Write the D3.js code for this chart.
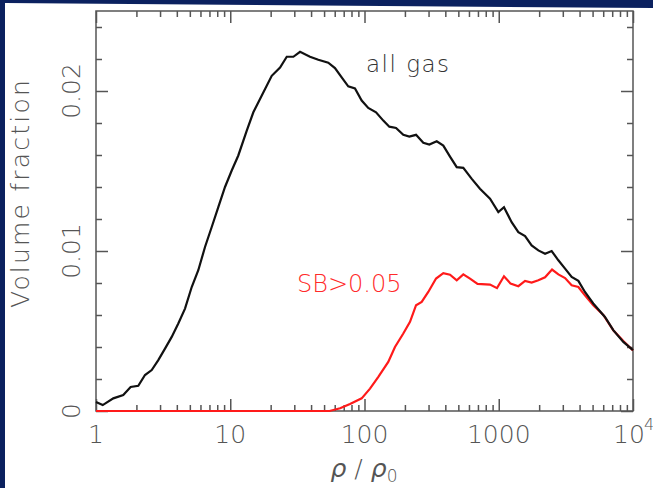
<!DOCTYPE html>
<html>
<head>
<meta charset="utf-8">
<script src="https://cdn.jsdelivr.net/npm/d3@7"></script>
<style>
  body { margin: 0; background: #fff; }
  svg text { font-family: "DejaVu Sans", sans-serif; font-weight: 200; }
</style>
</head>
<body>
<script>
// log10(rho/rho0) and volume fraction
const allGasLogRho = [0.000, 0.050, 0.129, 0.203, 0.258, 0.315, 0.365, 0.415, 0.464, 0.514, 0.564, 0.613, 0.663, 0.713, 0.762, 0.812, 0.862, 0.911, 0.961, 1.011, 1.060, 1.123, 1.172, 1.234, 1.309, 1.371, 1.421, 1.470, 1.520, 1.594, 1.656, 1.730, 1.780, 1.830, 1.879, 1.929, 1.979, 2.028, 2.086, 2.140, 2.185, 2.235, 2.289, 2.334, 2.384, 2.438, 2.483, 2.538, 2.587, 2.637, 2.687, 2.736, 2.799, 2.860, 2.935, 2.997, 3.039, 3.096, 3.146, 3.196, 3.245, 3.295, 3.345, 3.394, 3.444, 3.494, 3.543, 3.593, 3.642, 3.704, 3.791, 3.853, 3.928, 4.000];
const allGasFrac = [0.00056, 0.00037, 0.00079, 0.00100, 0.00150, 0.00158, 0.00225, 0.00256, 0.00318, 0.00390, 0.00463, 0.00547, 0.00640, 0.00775, 0.00880, 0.01025, 0.01150, 0.01274, 0.01400, 0.01503, 0.01597, 0.01752, 0.01867, 0.01970, 0.02095, 0.02147, 0.02214, 0.02214, 0.02245, 0.02214, 0.02195, 0.02177, 0.02143, 0.02085, 0.02029, 0.02016, 0.01940, 0.01894, 0.01867, 0.01815, 0.01777, 0.01769, 0.01726, 0.01715, 0.01726, 0.01676, 0.01665, 0.01686, 0.01659, 0.01590, 0.01524, 0.01520, 0.01451, 0.01389, 0.01327, 0.01243, 0.01274, 0.01180, 0.01118, 0.01093, 0.01035, 0.01004, 0.00983, 0.01000, 0.00942, 0.00890, 0.00838, 0.00813, 0.00744, 0.00672, 0.00588, 0.00505, 0.00432, 0.00380];

const sbLogRho = [0.000, 1.600, 1.740, 1.818, 1.892, 1.979, 2.041, 2.103, 2.177, 2.227, 2.289, 2.339, 2.384, 2.426, 2.475, 2.533, 2.587, 2.637, 2.687, 2.736, 2.786, 2.842, 2.935, 2.987, 3.039, 3.088, 3.146, 3.196, 3.245, 3.295, 3.345, 3.397, 3.444, 3.494, 3.543, 3.593, 3.642, 3.704, 3.779, 3.853, 3.928, 4.000];
const sbFrac = [0, 0, 0, 0.00017, 0.00044, 0.00079, 0.00140, 0.00214, 0.00307, 0.00400, 0.00484, 0.00557, 0.00661, 0.00682, 0.00744, 0.00828, 0.00862, 0.00852, 0.00817, 0.00854, 0.00827, 0.00794, 0.00790, 0.00768, 0.00842, 0.00796, 0.00780, 0.00813, 0.00803, 0.00817, 0.00836, 0.00884, 0.00854, 0.00831, 0.00786, 0.00775, 0.00723, 0.00661, 0.00600, 0.00505, 0.00437, 0.00378];

const xMajor = [1, 10, 100, 1000, 10000];
const xLabels = ["1", "10", "100", "1000", "10"];
const yMajor = [0, 0.01, 0.02];
const yLabels = ["0", "0.01", "0.02"];

const width = 653, height = 488;
const svg = d3.select('body').append('svg').attr('width', width).attr('height', height);

// slide background edges
svg.append('rect').attr('width', width).attr('height', height).attr('fill', '#fff');
svg.append('polygon').attr('points', '0,0 653,0 653,8 5,3 5,488 0,488').attr('fill', '#0b215f');

const x = d3.scaleLog().domain([1, 1e4]).range([96, 633]);
const y = d3.scaleLinear().domain([0, 0.025]).range([411, 11]);
const axisColor = '#555';

// minor ticks
const xMinor = [];
for (let e = 0; e < 4; e++) for (let k = 2; k <= 9; k++) xMinor.push(k * Math.pow(10, e));
const yMinor = d3.range(0, 0.0251, 0.002).filter(v => yMajor.every(m => Math.abs(m - v) > 1e-9));

function styleAxis(g) {
  g.select('.domain').remove();
  g.selectAll('line').attr('stroke', axisColor).attr('stroke-width', 1.5);
}

svg.append('g').attr('transform', 'translate(0,411)').call(d3.axisBottom(x).tickValues(xMinor).tickSize(-6).tickFormat('')).call(styleAxis);
svg.append('g').attr('transform', 'translate(0,411)').call(d3.axisBottom(x).tickValues(xMajor).tickSize(-12).tickFormat('')).call(styleAxis);
svg.append('g').attr('transform', 'translate(0,11)').call(d3.axisTop(x).tickValues(xMinor).tickSize(-6).tickFormat('')).call(styleAxis);
svg.append('g').attr('transform', 'translate(0,11)').call(d3.axisTop(x).tickValues(xMajor).tickSize(-12).tickFormat('')).call(styleAxis);
svg.append('g').attr('transform', 'translate(96,0)').call(d3.axisLeft(y).tickValues(yMinor).tickSize(-6).tickFormat('')).call(styleAxis);
svg.append('g').attr('transform', 'translate(96,0)').call(d3.axisLeft(y).tickValues(yMajor).tickSize(-12).tickFormat('')).call(styleAxis);
svg.append('g').attr('transform', 'translate(633,0)').call(d3.axisRight(y).tickValues(yMinor).tickSize(-6).tickFormat('')).call(styleAxis);
svg.append('g').attr('transform', 'translate(633,0)').call(d3.axisRight(y).tickValues(yMajor).tickSize(-12).tickFormat('')).call(styleAxis);

svg.append('rect').attr('x', 96).attr('y', 11).attr('width', 537).attr('height', 400)
  .attr('fill', 'none').attr('stroke', axisColor).attr('stroke-width', 1.5);

// tick labels
svg.selectAll('.xlab').data(xMajor).enter().append('text')
  .attr('class', 'xlab')
  .attr('x', (d, i) => i === 4 ? x(d) - 4 : x(d)).attr('y', 443)
  .attr('text-anchor', 'middle')
  .attr('font-size', 25).attr('fill', axisColor)
  .text((d, i) => xLabels[i]);
svg.append('text').attr('x', x(1e4) + 11).attr('y', 430).attr('font-size', 16).attr('fill', axisColor).text('4');

svg.selectAll('.ylab').data(yMajor).enter().append('text')
  .attr('class', 'ylab')
  .attr('transform', d => `translate(80,${y(d)}) rotate(-90)`)
  .attr('text-anchor', 'middle')
  .attr('font-size', 25).attr('fill', axisColor)
  .text((d, i) => yLabels[i]);

svg.append('text')
  .attr('transform', 'translate(29,193) rotate(-90)')
  .attr('text-anchor', 'middle')
  .attr('font-size', 25).attr('letter-spacing', 2.2).attr('fill', axisColor)
  .text('Volume fraction');

const xt = svg.append('text').attr('x', 364).attr('y', 477).attr('text-anchor', 'middle')
  .attr('font-size', 25).attr('fill', axisColor);
xt.append('tspan').attr('font-style', 'italic').text('ρ');
xt.append('tspan').text(' / ');
xt.append('tspan').attr('font-style', 'italic').text('ρ');
xt.append('tspan').attr('font-size', 17).attr('dy', 5).text('0');

// curves
const line = d3.line().x(d => x(Math.pow(10, d[0]))).y(d => y(d[1]));

svg.append('path')
  .datum(sbLogRho.map((v, i) => [v, sbFrac[i]]))
  .attr('d', line).attr('fill', 'none').attr('stroke', '#ff1a1a').attr('stroke-width', 2.2);

svg.append('path')
  .datum(allGasLogRho.map((v, i) => [v, allGasFrac[i]]))
  .attr('d', line).attr('fill', 'none').attr('stroke', '#111').attr('stroke-width', 2.2);

svg.append('text').attr('x', 366).attr('y', 72).attr('font-size', 23).attr('letter-spacing', 1.5).attr('fill', '#333').text('all gas');
svg.append('text').attr('x', 297).attr('y', 292).attr('font-size', 24).attr('fill', '#ff2a2a').text('SB>0.05');
</script>
</body>
</html>
